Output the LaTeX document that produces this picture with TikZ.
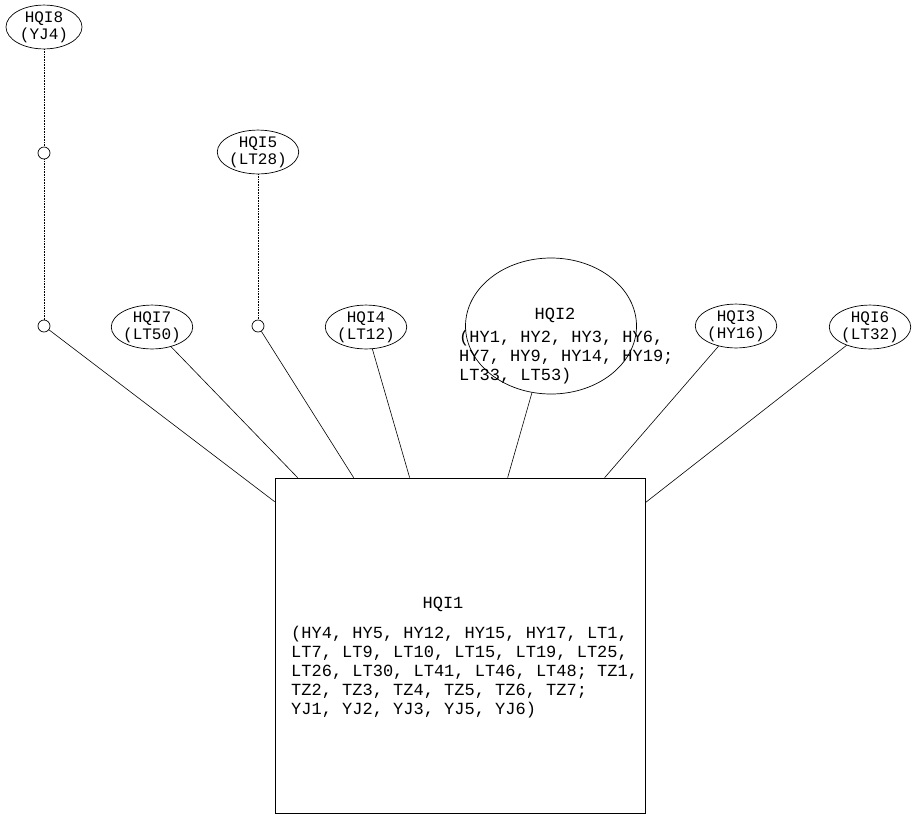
\documentclass[tikz,border=0pt]{standalone}
\usepackage{fontspec}
\usepackage{tikz}
\usetikzlibrary{positioning,shapes.geometric,calc}
\newfontfamily\hapfamily{Liberation Mono}
\newcommand{\hapfont}{\hapfamily\fontsize{16}{17}\selectfont}
\newcommand{\listfont}{\hapfamily\fontsize{17}{19}\selectfont}
\tikzset{
  hap/node/.style={draw, ellipse, line width=0.7pt, inner sep=0pt, minimum width=76pt, minimum height=36pt, align=center, font=\hapfont},
  hap/big/.style={draw, ellipse, line width=0.7pt, inner sep=0pt, minimum width=171pt, minimum height=136pt},
  hap/box/.style={draw, rectangle, line width=0.7pt, inner sep=0pt, minimum width=370pt, minimum height=335pt},
  hap/median/.style={draw, circle, line width=0.7pt, inner sep=0pt, minimum size=12pt},
  hap/title/.style={inner sep=0pt, font=\listfont},
  hap/list/.style={inner sep=0pt, align=left, font=\listfont},
  hap/link/.style={line width=0.6pt},
  hap/step/.style={line width=0.6pt, densely dotted}
}

\begin{document}
\begin{tikzpicture}[x=1pt, y=-1pt]
  \useasboundingbox (0,0) rectangle (916,815);

  % haplotypes
  \node[hap/box] (q1) at (460,645.5) {};
  \node[hap/title] (q1title) at (443,604) {HQI1};
  \node[hap/list, anchor=north west] (q1list) at (291,626) {(HY4, HY5, HY12, HY15, HY17, LT1,\\LT7, LT9, LT10, LT15, LT19, LT25,\\LT26, LT30, LT41, LT46, LT48; TZ1,\\TZ2, TZ3, TZ4, TZ5, TZ6, TZ7;\\YJ1, YJ2, YJ3, YJ5, YJ6)};

  \node[hap/big] (q2) at (551,326) {};
  \node[hap/title] (q2title) at (555,315) {HQI2};
  \node[hap/list, anchor=north west] (q2list) at (459,330) {(HY1, HY2, HY3, HY6,\\HY7, HY9, HY14, HY19;\\LT33, LT53)};

  \node[hap/node] (q3) at (736,326) {HQI3\\(HY16)};
  \node[hap/node] (q4) at (366,327) {HQI4\\(LT12)};
  \node[hap/node] (q5) at (258,152) {HQI5\\(LT28)};
  \node[hap/node, minimum width=68pt] (q6) at (870,327) {HQI6\\(LT32)};
  \node[hap/node] (q7) at (152,327) {HQI7\\(LT50)};
  \node[hap/node] (q8) at (44,27) {HQI8\\(YJ4)};

  % median vectors
  \node[hap/median] (mv1) at (44,153) {};
  \node[hap/median] (mv2) at (44,326) {};
  \node[hap/median] (mv3) at (258,326) {};

  % ends on the box
  \coordinate (e2) at ($(q1.north west)+(0,24)$);
  \coordinate (e7) at ($(q1.north west)+(23,0)$);
  \coordinate (e3) at ($(q1.north west)+(79,0)$);
  \coordinate (e4) at ($(q1.north west)+(135,0)$);
  \coordinate (e5) at ($(q1.north west)+(233,0)$);
  \coordinate (e6) at ($(q1.north west)+(330,0)$);
  \coordinate (e8) at ($(q1.north east)+(0,25)$);

  \draw[hap/step] (q8) -- (mv1);
  \draw[hap/step] (mv1) -- (mv2);
  \draw[hap/step] (q5) -- (mv3);

  \draw[hap/link] (mv2) -- (e2);
  \draw[hap/link] (q7) -- (e7);
  \draw[hap/link] (mv3) -- (e3);
  \draw[hap/link] (q4) -- (e4);
  \draw[hap/link] (q2) -- (e5);
  \draw[hap/link] (q3) -- (e6);
  \draw[hap/link] (q6) -- (e8);
\end{tikzpicture}
\end{document}
